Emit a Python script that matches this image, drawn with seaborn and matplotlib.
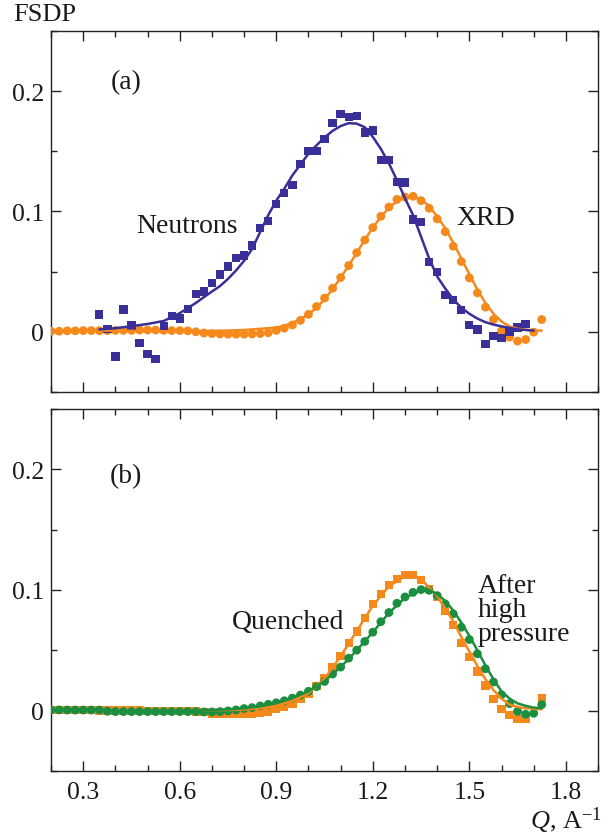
import numpy as np
import pandas as pd
import matplotlib
matplotlib.use("Agg")
import matplotlib.pyplot as plt
from matplotlib.ticker import MultipleLocator, FuncFormatter
import seaborn as sns

# ---------------- data ----------------
# Panel (a): neutrons (squares)
neut_q = [0.350, 0.375, 0.400, 0.425, 0.450, 0.475, 0.500, 0.525, 0.550, 0.575,
          0.600, 0.625, 0.650, 0.675, 0.700, 0.725, 0.750, 0.775, 0.800, 0.825,
          0.850, 0.875, 0.900, 0.925, 0.950, 0.975, 1.000, 1.025, 1.050, 1.075,
          1.100, 1.125, 1.150, 1.175, 1.200, 1.225, 1.250, 1.275, 1.300, 1.325,
          1.350, 1.375, 1.400, 1.425, 1.450, 1.475, 1.500, 1.525, 1.550, 1.575,
          1.600, 1.625, 1.650, 1.675]
neut_v = [0.0144, 0.0025, -0.0205, 0.0185, 0.0052, -0.0091, -0.0185, -0.0224, 0.0044, 0.0133,
          0.0110, 0.0190, 0.0313, 0.0335, 0.0404, 0.0476, 0.0542, 0.0614, 0.0633, 0.0716,
          0.0863, 0.0921, 0.1062, 0.1151, 0.1222, 0.1397, 0.1505, 0.1505, 0.1600, 0.1737,
          0.1810, 0.1787, 0.1795, 0.1657, 0.1674, 0.1430, 0.1430, 0.1247, 0.1242, 0.0932,
          0.0915, 0.0578, 0.0495, 0.0307, 0.0266, 0.0183, 0.0056, 0.0019, -0.0100, -0.0036,
          -0.0050, -0.0003, 0.0036, 0.0066]
# neutron fit curve
neut_fit_q = [0.35, 0.40, 0.45, 0.50, 0.55, 0.575, 0.60, 0.625, 0.65, 0.675, 0.70, 0.725,
              0.75, 0.775, 0.80, 0.825, 0.85, 0.875, 0.90, 0.925, 0.95, 0.975, 1.00,
              1.025, 1.05, 1.075, 1.10, 1.125, 1.15, 1.175, 1.20, 1.225, 1.25, 1.275,
              1.30, 1.325, 1.35, 1.375, 1.40, 1.425, 1.45, 1.475, 1.50, 1.525, 1.55,
              1.575, 1.60, 1.65, 1.70]
neut_fit_v = [0.0020, 0.0030, 0.0047, 0.0065, 0.0090, 0.0122, 0.0155, 0.0197, 0.0240, 0.0288,
              0.0335, 0.0380, 0.0440, 0.0510, 0.0590, 0.0690, 0.0830, 0.0970, 0.1090, 0.1190,
              0.1300, 0.1390, 0.1480, 0.1550, 0.1615, 0.1670, 0.1710, 0.1734, 0.1730, 0.1700,
              0.1620, 0.1520, 0.1400, 0.1260, 0.1110, 0.0970, 0.0790, 0.0610, 0.0460, 0.0360,
              0.0270, 0.0200, 0.0150, 0.0110, 0.0080, 0.0060, 0.0045, 0.0020, 0.0010]

# Panel (a): XRD (circles)
xrd_q = [0.200, 0.225, 0.250, 0.275, 0.300, 0.325, 0.350, 0.375, 0.400, 0.425,
         0.450, 0.475, 0.500, 0.525, 0.550, 0.575, 0.600, 0.625, 0.650, 0.675,
         0.700, 0.725, 0.750, 0.775, 0.800, 0.825, 0.850, 0.875, 0.900, 0.925,
         0.950, 0.975, 1.000, 1.025, 1.050, 1.075, 1.100, 1.125, 1.150, 1.175,
         1.200, 1.225, 1.250, 1.275, 1.300, 1.325, 1.350, 1.375, 1.400, 1.425,
         1.450, 1.475, 1.500, 1.525, 1.550, 1.575, 1.600, 1.625, 1.650, 1.675,
         1.700, 1.725]
xrd_v = [0.0005, 0.0005, 0.0008, 0.0008, 0.0010, 0.0010, 0.0010, 0.0010, 0.0012, 0.0012,
         0.0012, 0.0015, 0.0015, 0.0015, 0.0012, 0.0010, 0.0010, 0.0008, 0.0000, -0.0010,
         -0.0015, -0.0018, -0.0020, -0.0020, -0.0020, -0.0018, -0.0015, -0.0008, 0.0012, 0.0030,
         0.0057, 0.0095, 0.0145, 0.0210, 0.0280, 0.0362, 0.0451, 0.0550, 0.0658, 0.0763,
         0.0866, 0.0960, 0.1037, 0.1100, 0.1120, 0.1126, 0.1090, 0.1027, 0.0938, 0.0832,
         0.0711, 0.0584, 0.0448, 0.0324, 0.0205, 0.0102, 0.0006, -0.0044, -0.0077, -0.0064,
         -0.0003, 0.0102]
xrd_fit_q = [0.35, 0.45, 0.55, 0.65, 0.75, 0.80, 0.85, 0.90, 0.925, 0.95, 0.975, 1.00,
             1.025, 1.05, 1.075, 1.10, 1.125, 1.15, 1.175, 1.20, 1.225, 1.25, 1.275,
             1.30, 1.325, 1.35, 1.375, 1.40, 1.425, 1.45, 1.475, 1.50, 1.525, 1.55,
             1.575, 1.60, 1.625, 1.65, 1.70, 1.725]
xrd_fit_v = [0.0010, 0.0008, 0.0005, 0.0005, 0.0010, 0.0015, 0.0025, 0.0035, 0.0050, 0.0075,
             0.0105, 0.0145, 0.0200, 0.0270, 0.0355, 0.0450, 0.0550, 0.0655, 0.0765, 0.0865,
             0.0955, 0.1030, 0.1085, 0.1115, 0.1120, 0.1100, 0.1045, 0.0960, 0.0860, 0.0740,
             0.0610, 0.0480, 0.0350, 0.0240, 0.0150, 0.0085, 0.0045, 0.0025, 0.0012, 0.0010]

# Panel (b): quenched (squares)
quen_q = [0.200, 0.225, 0.250, 0.275, 0.300, 0.325, 0.350, 0.375, 0.400, 0.425,
          0.450, 0.475, 0.500, 0.525, 0.550, 0.575, 0.600, 0.625, 0.650, 0.675,
          0.700, 0.725, 0.750, 0.775, 0.800, 0.825, 0.850, 0.875, 0.900, 0.925,
          0.950, 0.975, 1.000, 1.025, 1.050, 1.075, 1.100, 1.125, 1.150, 1.175,
          1.200, 1.225, 1.250, 1.275, 1.300, 1.325, 1.350, 1.375, 1.400, 1.425,
          1.450, 1.475, 1.500, 1.525, 1.550, 1.575, 1.600, 1.625, 1.650, 1.675,
          1.725]
quen_v = [0.0003, 0.0003, 0.0003, 0.0003, 0.0003, 0.0003, 0.0002, 0.0002, 0.0002, 0.0000,
          0.0000, 0.0000, -0.0003, -0.0005, -0.0005, -0.0005, -0.0005, -0.0005, -0.0008, -0.0010,
          -0.0025, -0.0025, -0.0025, -0.0030, -0.0030, -0.0030, -0.0017, -0.0011, 0.0011, 0.0033,
          0.0058, 0.0095, 0.0140, 0.0206, 0.0270, 0.0361, 0.0452, 0.0560, 0.0656, 0.0766,
          0.0884, 0.0967, 0.1041, 0.1091, 0.1124, 0.1124, 0.1085, 0.1008, 0.0940, 0.0829,
          0.0711, 0.0562, 0.0444, 0.0325, 0.0209, 0.0099, 0.0011, -0.0036, -0.0069, -0.0065,
          0.0106]
quen_fit_q = [0.675, 0.75, 0.80, 0.85, 0.90, 0.95, 1.00, 1.05, 1.10, 1.15, 1.20, 1.25,
              1.30, 1.325, 1.35, 1.40, 1.45, 1.475, 1.50, 1.525, 1.55, 1.575, 1.60,
              1.625, 1.65, 1.675, 1.70, 1.725]
quen_fit_v = [0.0005, 0.0005, 0.0010, 0.0020, 0.0040, 0.0080, 0.0145, 0.0265, 0.0450, 0.0660,
              0.0870, 0.1030, 0.1115, 0.1120, 0.1090, 0.0950, 0.0740, 0.0610, 0.0490, 0.0370,
              0.0260, 0.0170, 0.0100, 0.0050, 0.0030, 0.0020, 0.0015, 0.0012]

# Panel (b): after high pressure (circles)
ahp_q = [0.200, 0.225, 0.250, 0.275, 0.300, 0.325, 0.350, 0.375, 0.400, 0.425,
         0.450, 0.475, 0.500, 0.525, 0.550, 0.575, 0.600, 0.625, 0.650, 0.675,
         0.700, 0.725, 0.750, 0.775, 0.800, 0.825, 0.850, 0.875, 0.900, 0.925,
         0.950, 0.975, 1.000, 1.025, 1.050, 1.075, 1.100, 1.125, 1.150, 1.175,
         1.200, 1.225, 1.250, 1.275, 1.300, 1.325, 1.350, 1.375, 1.400, 1.425,
         1.450, 1.475, 1.500, 1.525, 1.550, 1.575, 1.600, 1.625, 1.650, 1.675,
         1.700, 1.725]
ahp_v = [0.0006, 0.0006, 0.0005, 0.0005, 0.0005, 0.0005, 0.0005, -0.0005, -0.0008, -0.0008,
         -0.0008, -0.0008, -0.0008, -0.0008, -0.0008, -0.0008, -0.0008, -0.0008, -0.0008, -0.0011,
         -0.0011, -0.0008, -0.0002, 0.0006, 0.0017, 0.0025, 0.0039, 0.0052, 0.0065, 0.0082,
         0.0104, 0.0129, 0.0160, 0.0198, 0.0242, 0.0303, 0.0361, 0.0435, 0.0501, 0.0573,
         0.0650, 0.0737, 0.0813, 0.0890, 0.0942, 0.0980, 0.1003, 0.0997, 0.0953, 0.0884,
         0.0802, 0.0691, 0.0589, 0.0471, 0.0347, 0.0237, 0.0132, 0.0058, -0.0006, -0.0030,
         -0.0022, 0.0050]
ahp_fit_q = [0.675, 0.75, 0.80, 0.85, 0.90, 0.95, 1.00, 1.05, 1.10, 1.15, 1.20, 1.25,
             1.30, 1.35, 1.375, 1.40, 1.425, 1.45, 1.475, 1.50, 1.525, 1.55, 1.575,
             1.60, 1.625, 1.65, 1.675, 1.70, 1.725]
ahp_fit_v = [0.0005, 0.0010, 0.0020, 0.0035, 0.0065, 0.0105, 0.0160, 0.0245, 0.0360, 0.0500,
             0.0650, 0.0810, 0.0935, 0.0998, 0.1000, 0.0965, 0.0910, 0.0830, 0.0730, 0.0620,
             0.0500, 0.0375, 0.0260, 0.0160, 0.0100, 0.0060, 0.0040, 0.0025, 0.0020]

# ---------------- style ----------------
BLUE = "#3a2e98"
ORANGE = "#f5891c"
GREEN = "#1b8f3f"

sns.set_style("ticks")
plt.rcParams["font.family"] = ["Liberation Serif", "DejaVu Serif"]
plt.rcParams["mathtext.fontset"] = "custom"
plt.rcParams["mathtext.rm"] = "Liberation Serif"
plt.rcParams["mathtext.it"] = "Liberation Serif:italic"

fig = plt.figure(figsize=(6.08, 8.37), dpi=100)
ax1 = fig.add_axes([0.084, 0.5305, 0.8996, 0.4313])
ax2 = fig.add_axes([0.084, 0.0777, 0.8996, 0.4325])


def scat(ax, q, v, color, marker, size):
    df = pd.DataFrame({"Q": q, "FSDP": v})
    sns.scatterplot(data=df, x="Q", y="FSDP", ax=ax, color=color, marker=marker,
                    s=size, linewidth=0, edgecolor="none", zorder=3)


def fitline(ax, q, v, color):
    df = pd.DataFrame({"Q": q, "FSDP": v})
    sns.lineplot(data=df, x="Q", y="FSDP", ax=ax, color=color, lw=1.8,
                 sort=False, estimator=None, zorder=4)


# panel (a)
scat(ax1, xrd_q, xrd_v, ORANGE, "o", 40)
fitline(ax1, xrd_fit_q, xrd_fit_v, ORANGE)
scat(ax1, neut_q, neut_v, BLUE, "s", 36)
fitline(ax1, neut_fit_q, neut_fit_v, BLUE)

# panel (b)
scat(ax2, quen_q, quen_v, ORANGE, "s", 36)
fitline(ax2, quen_fit_q, quen_fit_v, ORANGE)
scat(ax2, ahp_q, ahp_v, GREEN, "o", 40)
fitline(ax2, ahp_fit_q, ahp_fit_v, GREEN)

fmt = FuncFormatter(lambda v, p: "0" if abs(v) < 1e-9 else f"{v:.1f}")
for ax in (ax1, ax2):
    ax.set_xlim(0.2, 1.9)
    ax.set_ylim(-0.05, 0.25)
    ax.xaxis.set_major_locator(MultipleLocator(0.3))
    ax.xaxis.set_minor_locator(MultipleLocator(0.1))
    ax.yaxis.set_major_locator(MultipleLocator(0.1))
    ax.yaxis.set_minor_locator(MultipleLocator(0.05))
    ax.yaxis.set_major_formatter(fmt)
    ax.tick_params(which="both", direction="in", top=True, right=True,
                   width=1.0, color="#222222", labelsize=18.5, labelcolor="#1a1a1a")
    ax.tick_params(which="major", length=7)
    ax.tick_params(which="minor", length=4.5)
    ax.tick_params(axis="y", pad=5)
    ax.tick_params(axis="x", pad=7)
    for sp in ax.spines.values():
        sp.set_linewidth(1.0)
        sp.set_color("#222222")
    ax.set_xlabel("")
    ax.set_ylabel("")

ax1.tick_params(axis="x", labelbottom=False)

TXT = dict(fontsize=20, color="#1a1a1a")
ax1.text(0.433, 0.208, "(a)", ha="center", va="center", **TXT)
ax1.text(0.622, 0.088, "Neutrons", ha="center", va="center", **TXT)
ax1.text(1.552, 0.0954, "XRD", ha="center", va="center", **TXT)

ax2.text(0.433, 0.195, "(b)", ha="center", va="center", **TXT)
ax2.text(0.938, 0.0736, "Quenched", ha="center", va="center", **TXT)
ax2.text(1.527, 0.0835, "After\nhigh\npressure", ha="left", va="center",
         linespacing=0.95, **TXT)

fig.text(0.021, 0.982, "FSDP", ha="left", va="center", fontsize=19, color="#1a1a1a")
fig.text(0.99, 0.0096, r"$Q$, A$^{-1}$", ha="right", va="baseline",
         fontsize=19, color="#1a1a1a")

fig.savefig("out.png", dpi=100)
